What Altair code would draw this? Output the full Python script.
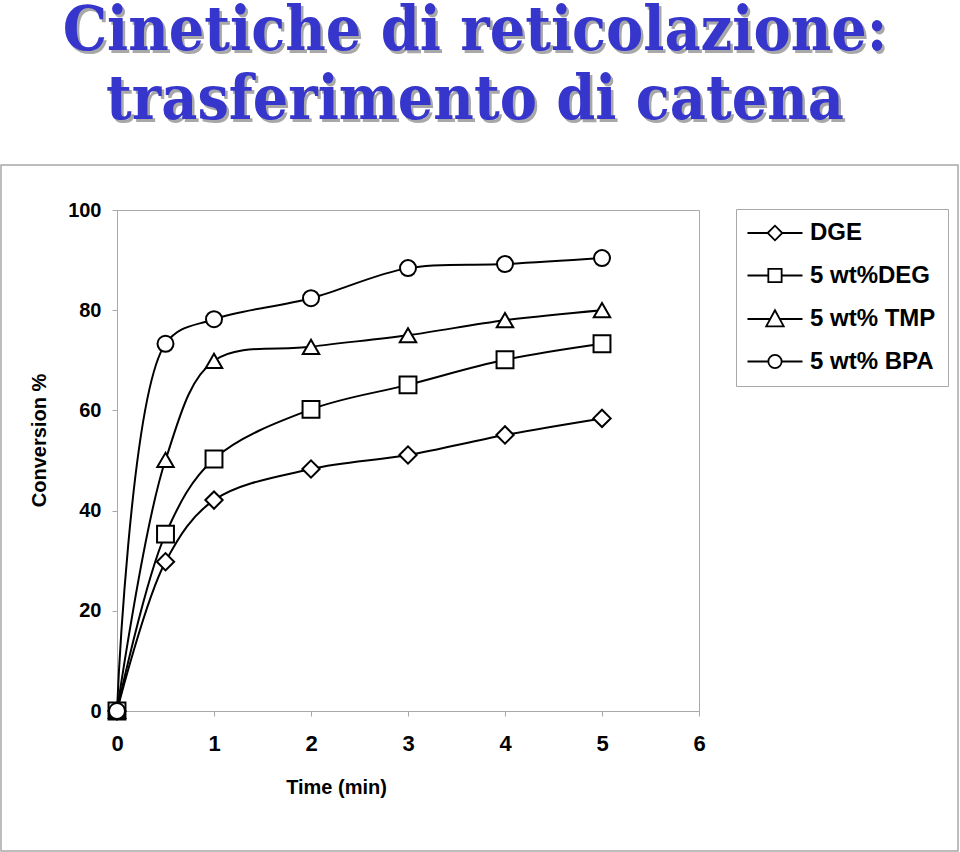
import altair as alt
import pandas as pd

# ---- data ----
time_min = [0, 0.5, 1, 2, 3, 4, 5]
series_names = ["DGE", "5 wt%DEG", "5 wt% TMP", "5 wt% BPA"]
dge = [0, 29.8, 42.1, 48.3, 51.1, 55.1, 58.4]
deg = [0, 35.3, 50.3, 60.2, 65.1, 70.1, 73.3]
tmp = [0, 50.1, 69.9, 72.7, 75.0, 78.0, 80.0]
bpa = [0, 73.3, 78.2, 82.4, 88.4, 89.2, 90.4]
x_ticks = [0, 1, 2, 3, 4, 5, 6]
y_ticks = [0, 20, 40, 60, 80, 100]
title_lines = ["Cinetiche di reticolazione:", "trasferimento di catena"]

rows = []
for name, vals in zip(series_names, [dge, deg, tmp, bpa]):
    for t, v in zip(time_min, vals):
        rows.append({"Time": t, "Conversion": v, "Series": name})
df = pd.DataFrame(rows)

W, H = 582, 501
PL, PT = 117, 210
SANS = "Liberation Sans"
GRAY = "#a8a8a8"

x_enc = alt.X(
    "Time:Q",
    scale=alt.Scale(domain=[0, 6], nice=False, zero=False),
    axis=alt.Axis(
        values=x_ticks, title="Time (min)", grid=False, format="d", labelFlush=False,
        labelFont=SANS, labelFontSize=22, labelFontWeight="bold", labelColor="black",
        labelPadding=17, tickSize=5, tickColor=GRAY, domainColor=GRAY,
        titleFont=SANS, titleFontSize=20, titleFontWeight="bold", titleColor="black",
        titleX=219, titleY=82, titleBaseline="alphabetic", titleAlign="center",
    ),
)
y_enc = alt.Y(
    "Conversion:Q",
    scale=alt.Scale(domain=[0, 100], nice=False),
    axis=alt.Axis(
        values=y_ticks, title="Conversion %", grid=False, labelFlush=False,
        labelFont=SANS, labelFontSize=20, labelFontWeight="bold", labelColor="black",
        labelPadding=11, tickSize=5, tickColor=GRAY, domainColor=GRAY,
        titleFont=SANS, titleFontSize=20, titleFontWeight="bold", titleColor="black",
        titleX=-72, titleY=230, titleAngle=-90, titleBaseline="alphabetic", titleAlign="center",
    ),
)

frame = alt.Chart(pd.DataFrame({"k": [0]})).mark_rect(
    fillOpacity=0, stroke=GRAY, strokeWidth=1.5
).encode(
    x=alt.value(-PL + 1), x2=alt.value(958 - PL), y=alt.value(165 - PT), y2=alt.value(851 - PT)
)

TITLE_FONT = "DejaVu Serif Condensed"
title_df = pd.DataFrame({"t": ["\n".join(title_lines)]})
title_shadow = alt.Chart(title_df).mark_text(
    font=TITLE_FONT, fontSize=62, fontWeight="bold", color="#a8a8a8",
    align="center", baseline="alphabetic", lineBreak="\n", lineHeight=69,
).encode(text="t:N", x=alt.value(475 - PL + 2.5), y=alt.value(50 - PT + 2.5))
title_main = alt.Chart(title_df).mark_text(
    font=TITLE_FONT, fontSize=62, fontWeight="bold", color="#3636CC",
    align="center", baseline="alphabetic", lineBreak="\n", lineHeight=69,
).encode(text="t:N", x=alt.value(475 - PL), y=alt.value(50 - PT))

lines = alt.Chart(df).mark_line(
    interpolate="catmull-rom", color="black", strokeWidth=2
).encode(x=x_enc, y=y_enc, detail="Series:N")

points = alt.Chart(df).mark_point(
    filled=True, fill="white", stroke="black", strokeWidth=2, opacity=1
).encode(
    x=x_enc, y=y_enc,
    shape=alt.Shape("Series:N", scale=alt.Scale(domain=series_names,
                    range=["diamond", "square", "triangle-up", "circle"]), legend=None),
    size=alt.Size("Series:O", scale=alt.Scale(domain=series_names,
                  range=[300, 256, 380, 220]), legend=None),
)

# legend glyphs: a short line with the marker in its middle (unit = 7 px)
legend_paths = [
    "M-1.79,0H1.09M3.19,0H6.07M1.09,0L2.14,-1.05L3.19,0L2.14,1.05Z",
    "M-1.79,0H1.19M3.09,0H6.07M1.19,-0.95H3.09V0.95H1.19Z",
    "M-1.79,0H1.54M2.74,0H6.07M2.14,-1.25L3.39,1.05L0.89,1.05Z",
    "M-1.79,0H1.19M3.09,0H6.07M1.19,0A0.95,0.95 0 1,0 3.09,0A0.95,0.95 0 1,0 1.19,0Z",
]
legend_layer = alt.Chart(df).transform_filter("false").mark_point(
    filled=False, color="black", strokeWidth=1.8, opacity=1, size=196
).encode(
    x=x_enc, y=y_enc,
    shape=alt.Shape("Series:N", scale=alt.Scale(domain=series_names, range=legend_paths),
                    legend=alt.Legend(
                        title=None, orient="none", legendX=736 - PL, legendY=209 - PT,
                        labelFont=SANS, labelFontSize=24, labelFontWeight="bold", labelColor="black",
                        labelOffset=38, symbolSize=196, symbolStrokeWidth=1.8,
                        symbolStrokeColor="black",
                        rowPadding=18.5, padding=12, strokeColor=GRAY, fillColor="white",
                        labelLimit=300,
                    )),
)

chart = alt.layer(frame, title_shadow, title_main, lines, points, legend_layer).resolve_scale(
    shape="independent", size="independent"
).properties(
    width=W, height=H,
    padding={"left": PL, "top": PT, "right": 960 - PL - W, "bottom": 852 - PT - H},
    autosize=alt.AutoSizeParams(type="none"),
    background="white",
).configure_view(stroke=GRAY, strokeWidth=1)

chart.save("out.html", embed_options={"renderer": "svg", "actions": False})
